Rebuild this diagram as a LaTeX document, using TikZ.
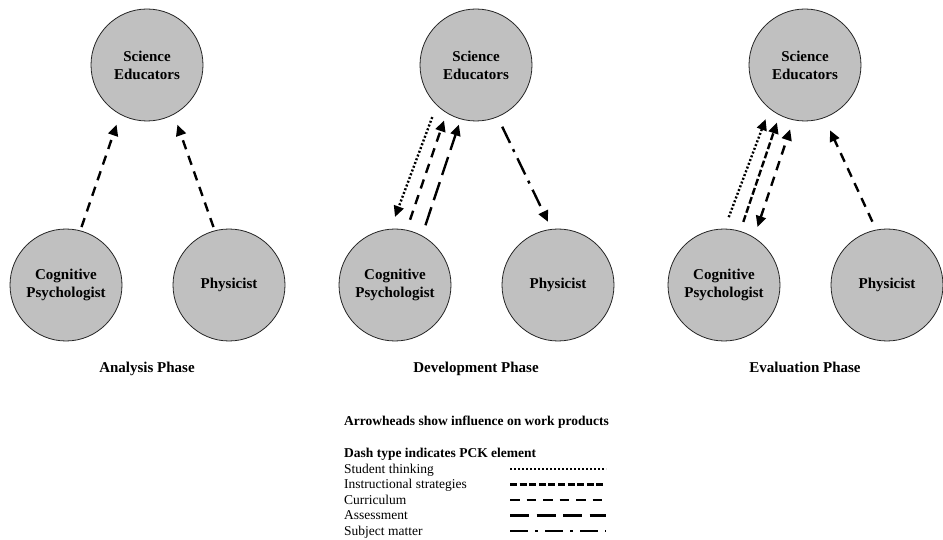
\documentclass[tikz,border=0pt]{standalone}
\usepackage{fontspec}
\setmainfont{Liberation Serif}
\usetikzlibrary{arrows.meta,calc}
\definecolor{actorfill}{HTML}{C0C0C0}
\begin{document}
\begin{tikzpicture}[x=1pt,y=1pt,
  actor/.style={circle,draw=black!85,line width=0.8pt,fill=actorfill,
    minimum size=112pt,inner sep=0pt,outer sep=0pt,align=center,
    font=\bfseries\fontsize{15}{18}\selectfont},
  phase/.style={font=\bfseries\fontsize{15}{18}\selectfont,anchor=base},
  legtitle/.style={font=\bfseries\fontsize{13.5}{15.5}\selectfont,anchor=base west,inner sep=0pt},
  legtext/.style={font=\fontsize{13.5}{15.5}\selectfont,anchor=base west,inner sep=0pt},
  pck/.style={line width=2.4pt},
  link/.style={pck,-{Triangle[length=11pt,width=10pt]}},
  twoway/.style={pck,{Triangle[length=11pt,width=10pt]}-{Triangle[length=11pt,width=10pt]}},
  thinking/.style={dash pattern=on 2pt off 2pt},
  strategies/.style={dash pattern=on 7pt off 2.6pt},
  curriculum/.style={dash pattern=on 9.5pt off 7pt},
  assessment/.style={dash pattern=on 19pt off 7.5pt},
  subject/.style={dash pattern=on 18pt off 7pt on 3pt off 7pt}]
\useasboundingbox (0,-540) rectangle (943,0);

% ---- Analysis phase
\node[actor] (seA) at (147,-65) {Science\\Educators};
\node[actor] (cpA) at (66,-285) {Cognitive\\Psychologist};
\node[actor] (phA) at (229,-285) {Physicist};
\node[phase] (lbA) at (147,-372) {Analysis Phase};
\draw[link,curriculum] ($(cpA)+(75:60)$) -- ($(seA)+(-117:67)$);
\draw[link,curriculum] ($(phA)+(105:60)$) -- ($(seA)+(-63:67)$);

% ---- Development phase
\node[actor] (seB) at (476,-65) {Science\\Educators};
\node[actor] (cpB) at (395,-285) {Cognitive\\Psychologist};
\node[actor] (phB) at (558,-285) {Physicist};
\node[phase] (lbB) at (476,-372) {Development Phase};
\draw[link,thinking] ($(seB)+(-130:68)$) -- ($(cpB)+(90:68)$);
\draw[link,curriculum] ($(cpB)+(77:67)$) -- ($(seB)+(-120:64)$);
\draw[link,assessment] ($(cpB)+(63:67)$) -- ($(seB)+(-106:62)$);
\draw[link,subject] ($(seB)+(-67:67)$) -- ($(phB)+(99:64)$);

% ---- Evaluation phase
\node[actor] (seC) at (805,-65) {Science\\Educators};
\node[actor] (cpC) at (724,-285) {Cognitive\\Psychologist};
\node[actor] (phC) at (887,-285) {Physicist};
\node[phase] (lbC) at (805,-372) {Evaluation Phase};
\draw[link,thinking] ($(cpC)+(86:68)$) -- ($(seC)+(-126:67)$);
\draw[link,strategies] ($(cpC)+(73:66)$) -- ($(seC)+(-116:64)$);
\draw[twoway,curriculum] ($(cpC)+(60:67)$) -- ($(seC)+(-103:66)$);
\draw[link,curriculum] ($(phC)+(103:65)$) -- ($(seC)+(-69:70)$);

% ---- Legend
\node[legtitle] (lgA) at (344,-425) {Arrowheads show influence on work products};
\node[legtitle] (lgB) at (344,-457) {Dash type indicates PCK element};
\node[legtext] (lg1) at (344,-473) {Student thinking};
\node[legtext] (lg2) at (344,-488.5) {Instructional strategies};
\node[legtext] (lg3) at (344,-504) {Curriculum};
\node[legtext] (lg4) at (344,-519.5) {Assessment};
\node[legtext] (lg5) at (344,-535) {Subject matter};
\draw[pck,thinking]   (510,-469) -- (606,-469);
\draw[pck,strategies] (510,-484.5) -- (606,-484.5);
\draw[pck,curriculum] (510,-500) -- (606,-500);
\draw[pck,assessment] (510,-515.5) -- (606,-515.5);
\draw[pck,subject]    (510,-531) -- (606,-531);
\end{tikzpicture}
\end{document}
